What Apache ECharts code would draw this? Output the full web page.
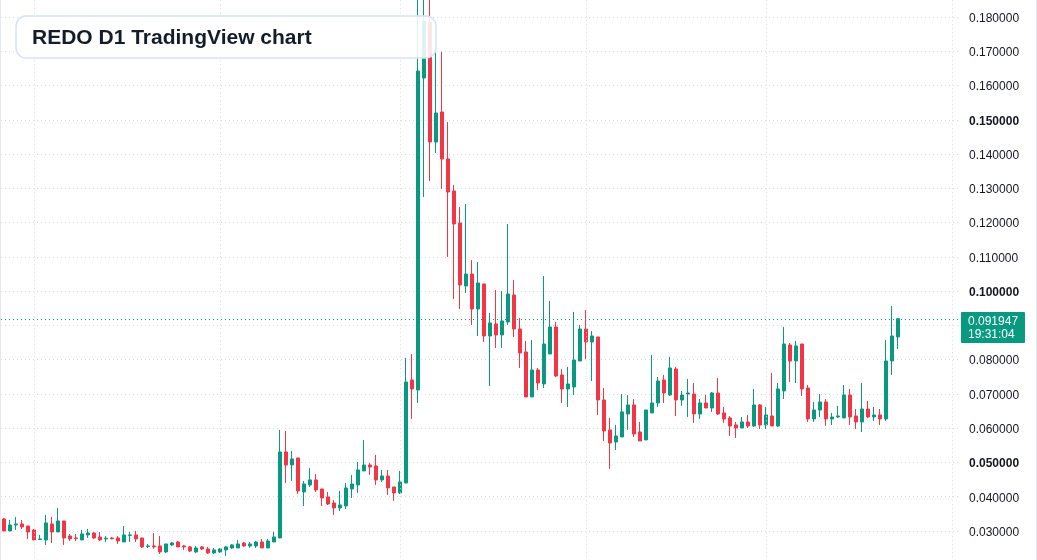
<!DOCTYPE html>
<html>
<head>
<meta charset="utf-8">
<script src="https://cdn.jsdelivr.net/npm/echarts@6/dist/echarts.min.js"></script>
<style>
  html, body { margin: 0; padding: 0; background: #ffffff; }
  #chart { width: 1037px; height: 560px; }
</style>
</head>
<body>
<div id="chart"></div>
<script>
// ---- Data (daily candles) ----
const startDate = '2024-07-27';
const totalSlots = 160; // 150 candles + empty space on the right
const monthStarts = ['2024-08-01', '2024-09-01', '2024-10-01', '2024-11-01', '2024-12-01', '2025-01-01'];

const opens = [
  0.03352,0.03001,0.03177,0.03206,0.03147,0.03031,0.02755,0.02739,0.03206,0.02972,
  0.03293,0.02855,0.02797,0.02739,0.02885,0.02943,0.02826,0.02768,0.02797,0.02797,
  0.02680,0.02870,0.02885,0.02797,0.02550,0.02564,0.02564,0.02389,0.02593,0.02680,
  0.02564,0.02535,0.02389,0.02535,0.02476,0.02360,0.02389,0.02447,0.02505,0.02505,
  0.02651,0.02564,0.02564,0.02680,0.02505,0.02680,0.02797,0.05307,0.04927,0.05132,
  0.04140,0.04344,0.04490,0.04227,0.03994,0.03818,0.03673,0.03731,0.04227,0.04344,
  0.04752,0.04927,0.04898,0.04490,0.04606,0.04285,0.04110,0.04402,0.07408,0.07116,
  0.16220,0.17854,0.14352,0.15228,0.13856,0.12923,0.11989,0.10151,0.10500,0.09479,
  0.10209,0.08692,0.09042,0.08721,0.09100,0.09888,0.08896,0.08225,0.06912,0.07699,
  0.07291,0.08166,0.08954,0.07554,0.07145,0.07203,0.07962,0.08896,0.08516,0.08662,
  0.06824,0.05949,0.05599,0.05744,0.06415,0.06678,0.05890,0.05657,0.06445,0.06736,
  0.07408,0.06970,0.07729,0.06824,0.06999,0.06999,0.06415,0.06736,0.06590,0.07028,
  0.06445,0.06299,0.06095,0.06007,0.06182,0.06065,0.06678,0.06095,0.06357,0.06065,
  0.07087,0.08429,0.07962,0.08458,0.07174,0.06270,0.06532,0.06766,0.06270,0.06328,
  0.06299,0.06970,0.06357,0.06182,0.06561,0.06328,0.06386,0.06270,0.07962,0.08662
];
const closes = [
  0.03001,0.03177,0.03206,0.03118,0.02972,0.02739,0.02768,0.03235,0.02972,0.03293,
  0.02797,0.02768,0.02775,0.02914,0.02943,0.02797,0.02739,0.02790,0.02775,0.02710,
  0.02885,0.02885,0.02768,0.02535,0.02564,0.02535,0.02389,0.02622,0.02651,0.02535,
  0.02535,0.02418,0.02505,0.02476,0.02360,0.02447,0.02476,0.02535,0.02593,0.02622,
  0.02564,0.02622,0.02680,0.02505,0.02710,0.02826,0.05307,0.04927,0.05103,0.04169,
  0.04373,0.04490,0.04198,0.03964,0.03789,0.03673,0.03760,0.04256,0.04373,0.04782,
  0.04927,0.04869,0.04490,0.04606,0.04256,0.04110,0.04431,0.07349,0.07145,0.16424,
  0.17883,0.14352,0.15199,0.13856,0.12893,0.11960,0.10179,0.10500,0.09479,0.10238,
  0.08692,0.09071,0.08721,0.09129,0.09917,0.08896,0.08195,0.06912,0.07699,0.07320,
  0.08458,0.08954,0.07524,0.07145,0.07291,0.07991,0.08896,0.08516,0.08692,0.06824,
  0.05920,0.05569,0.05774,0.06474,0.06678,0.05832,0.05628,0.06532,0.06736,0.07378,
  0.07028,0.07758,0.06824,0.06970,0.07028,0.06415,0.06736,0.06590,0.07028,0.06415,
  0.06270,0.06065,0.06007,0.06182,0.06065,0.06678,0.06095,0.06386,0.06065,0.07145,
  0.08458,0.07962,0.08400,0.07145,0.06270,0.06532,0.06766,0.06270,0.06328,0.06357,
  0.06970,0.06328,0.06182,0.06561,0.06328,0.06386,0.06270,0.07962,0.08692,0.091947
];
const lows = [
  0.03001,0.03001,0.03031,0.03060,0.02768,0.02739,0.02739,0.02593,0.02651,0.02972,
  0.02593,0.02710,0.02710,0.02739,0.02797,0.02768,0.02710,0.02680,0.02755,0.02622,
  0.02680,0.02680,0.02680,0.02505,0.02505,0.02476,0.02330,0.02360,0.02564,0.02535,
  0.02447,0.02389,0.02360,0.02447,0.02330,0.02330,0.02360,0.02272,0.02476,0.02505,
  0.02535,0.02505,0.02505,0.02505,0.02505,0.02680,0.02797,0.04402,0.04461,0.04081,
  0.03731,0.04285,0.04140,0.03731,0.03760,0.03468,0.03585,0.03643,0.03964,0.04110,
  0.04752,0.04636,0.04344,0.04431,0.04052,0.03877,0.04081,0.04402,0.06270,0.06736,
  0.12748,0.13214,0.14031,0.12981,0.10997,0.09771,0.09479,0.09947,0.09012,0.08692,
  0.08516,0.07233,0.08341,0.08341,0.09012,0.08662,0.07758,0.06912,0.06912,0.07116,
  0.07174,0.08166,0.07495,0.06736,0.06620,0.06970,0.07962,0.08020,0.07378,0.06386,
  0.05628,0.04811,0.05365,0.05744,0.05949,0.05744,0.05628,0.05657,0.06445,0.06620,
  0.06736,0.06941,0.06357,0.06649,0.06328,0.06153,0.06270,0.06590,0.06474,0.06386,
  0.06153,0.05774,0.05715,0.06007,0.06007,0.06036,0.05978,0.05978,0.06065,0.06036,
  0.06853,0.07349,0.07320,0.06941,0.06182,0.06182,0.06328,0.06065,0.06095,0.06299,
  0.06299,0.06095,0.05978,0.05890,0.06299,0.06211,0.06095,0.06211,0.07554,0.08312
];
const highs = [
  0.03381,0.03322,0.03410,0.03322,0.03147,0.03060,0.02885,0.03468,0.03410,0.03673,
  0.03293,0.02914,0.02914,0.03031,0.03060,0.02972,0.02972,0.02855,0.02826,0.02855,
  0.03147,0.02972,0.03001,0.02797,0.02622,0.02943,0.02855,0.02622,0.02680,0.02710,
  0.02593,0.02564,0.02564,0.02564,0.02535,0.02505,0.02505,0.02564,0.02622,0.02739,
  0.02680,0.02680,0.02710,0.02768,0.02768,0.02972,0.05949,0.05920,0.05336,0.05132,
  0.04461,0.04840,0.04665,0.04227,0.04140,0.03906,0.04169,0.04402,0.04636,0.05015,
  0.05657,0.04986,0.05219,0.04782,0.04782,0.04285,0.04752,0.08050,0.08166,0.19000,
  0.19000,0.19000,0.17037,0.16979,0.14936,0.13098,0.12456,0.12543,0.10909,0.10851,
  0.10209,0.09363,0.10034,0.10005,0.11960,0.10325,0.09217,0.08546,0.08575,0.07758,
  0.10442,0.09713,0.09100,0.07729,0.07787,0.09392,0.09012,0.09450,0.08837,0.08662,
  0.07174,0.06299,0.06095,0.06999,0.06970,0.06853,0.06182,0.06532,0.08137,0.07495,
  0.07554,0.08079,0.07787,0.07087,0.07437,0.07320,0.06853,0.06970,0.07057,0.07466,
  0.06620,0.06357,0.06182,0.06328,0.06386,0.07145,0.06707,0.06620,0.07612,0.07320,
  0.08954,0.08487,0.08546,0.08458,0.07262,0.06767,0.06999,0.06853,0.06445,0.06649,
  0.07262,0.07145,0.06561,0.07320,0.06795,0.06620,0.06561,0.08575,0.09567,0.09217
];
const lastPrice = 0.091947;
const lastPriceTime = '19:31:04';
const titleText = 'REDO D1 TradingView chart';

// ---- Build ----
const categories = [];
{
  const d0 = new Date(startDate + 'T00:00:00Z');
  for (let i = 0; i < totalSlots; i++) {
    const d = new Date(d0.getTime() + i * 86400000);
    categories.push(d.toISOString().slice(0, 10));
  }
}
const candleData = opens.map((o, i) => [o, closes[i], lows[i], highs[i]]);

const UP = '#089981', DOWN = '#f23645';
const GRID_COLOR = '#d6d9df';
const FONT = "'Liberation Sans', Arial, sans-serif";

const chart = echarts.init(document.getElementById('chart'), null, { renderer: 'canvas' });

const monthLines = monthStarts.map(d => ({
  xAxis: d,
  lineStyle: { color: GRID_COLOR, type: [1, 3], width: 1 },
  label: { show: false }
}));

chart.setOption({
  animation: false,
  backgroundColor: '#ffffff',
  grid: { left: 1, width: 960, top: -17.27, height: 582.54, containLabel: false, outerBoundsMode: 'none' },
  xAxis: {
    type: 'category',
    data: categories,
    boundaryGap: true,
    axisLine: { show: false },
    axisTick: { show: false },
    axisLabel: { show: false },
    splitLine: { show: false }
  },
  yAxis: {
    type: 'value',
    position: 'right',
    min: 0.02,
    max: 0.19,
    interval: 0.01,
    axisLine: { show: false },
    axisTick: { show: false },
    splitLine: { show: true, lineStyle: { color: GRID_COLOR, type: [1, 3], width: 1 } },
    axisLabel: {
      show: true,
      margin: 8,
      padding: [3, 0, 0, 0],
      showMinLabel: false,
      showMaxLabel: false,
      color: '#131722',
      fontSize: 12,
      fontFamily: FONT,
      formatter: function (v) {
        const s = v.toFixed(6);
        const k = Math.round(v * 100);
        return (k % 5 === 0) ? '{b|' + s + '}' : s;
      },
      rich: { b: { fontWeight: 'bold', fontSize: 12, color: '#131722', fontFamily: FONT } }
    }
  },
  series: [{
    type: 'candlestick',
    data: candleData,
    barWidth: 4,
    clip: false,
    itemStyle: {
      color: UP, color0: DOWN,
      borderColor: UP, borderColor0: DOWN,
      borderWidth: 1
    },
    markLine: {
      silent: true,
      symbol: ['none', 'none'],
      animation: false,
      data: monthLines
    }
  }]
});

// Last-price line, price label and title box, placed through the chart's own scale
const yLast = Math.round(chart.convertToPixel({ yAxisIndex: 0 }, lastPrice)) + 0.5;
chart.setOption({
  graphic: [
    { type: 'rect', left: 0, top: 0, z: 100, shape: { width: 1, height: 560 }, style: { fill: '#e6e8ec' } },
    { type: 'rect', right: 0, top: 0, z: 100, shape: { width: 1, height: 560 }, style: { fill: '#e6e8ec' } },
    { type: 'line', z: 90, shape: { x1: 1, y1: yLast, x2: 961, y2: yLast },
      style: { stroke: UP, lineWidth: 1, lineDash: [1, 3] } },
    { type: 'rect', z: 110, x: 961, y: Math.round(yLast) - 8,
      shape: { x: 0, y: 0, width: 64, height: 31, r: 1 }, style: { fill: UP } },
    { type: 'text', z: 111, x: 968, y: Math.round(yLast) - 5,
      style: { text: lastPrice.toFixed(6) + '\n' + lastPriceTime, fill: '#ffffff', font: "12px 'Liberation Sans', Arial, sans-serif", lineHeight: 13, align: 'left', verticalAlign: 'top' } },
    { type: 'rect', z: 110, x: 16, y: 16,
      shape: { x: 0, y: 0, width: 420, height: 42, r: 10 },
      style: { fill: 'rgba(255,255,255,0.88)', stroke: '#d5e3f8', lineWidth: 1.5 } },
    { type: 'text', z: 111, x: 32, y: 38,
      style: { text: titleText, fill: '#131c2b', font: "bold 21px 'Liberation Sans', Arial, sans-serif", verticalAlign: 'middle', align: 'left' } }
  ]
});
</script>
</body>
</html>
